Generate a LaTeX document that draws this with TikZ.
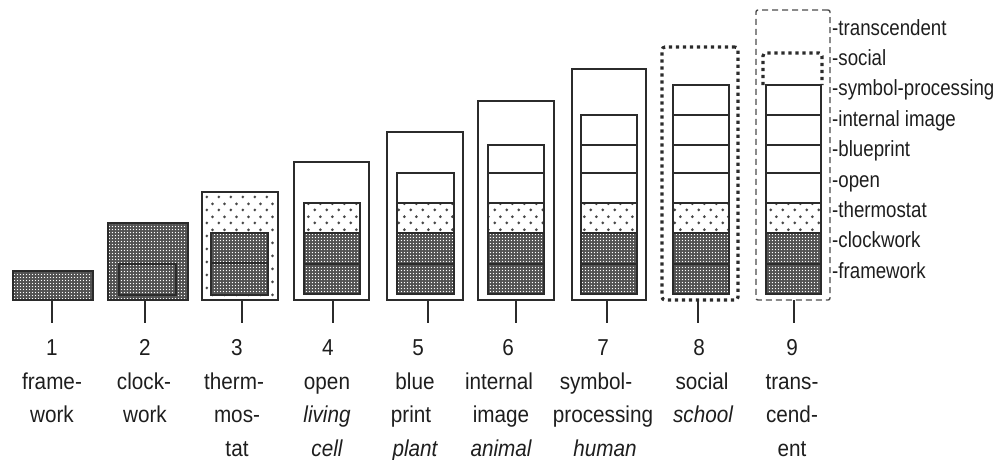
\documentclass[tikz,border=0pt]{standalone}
\usepackage{fontspec}
\setmainfont{Liberation Sans}
\newfontfamily\lblfont[FakeStretch=0.9]{Liberation Sans}
\newfontfamily\sidefont[FakeStretch=0.85]{Liberation Sans}
\usetikzlibrary{patterns}

% dark fill with a fine grid of light dots (framework / clockwork)
\pgfdeclarepatternformonly{densedots}{\pgfpointorigin}{\pgfpoint{3.4pt}{3.4pt}}{\pgfpoint{3.4pt}{3.4pt}}{%
  \pgfpathcircle{\pgfpoint{1.7pt}{1.7pt}}{0.8pt}\pgfusepath{fill}}
% light fill with staggered dark dots (thermostat)
\pgfdeclarepatternformonly{sparsedots}{\pgfpointorigin}{\pgfpoint{12pt}{13pt}}{\pgfpoint{12pt}{13pt}}{%
  \pgfpathcircle{\pgfpoint{3pt}{3.25pt}}{1.6pt}%
  \pgfpathcircle{\pgfpoint{9pt}{9.75pt}}{1.6pt}\pgfusepath{fill}}

\definecolor{ink}{HTML}{2B2B2B}
\definecolor{txt}{HTML}{1E1E1E}

% a box given by its corners (x1,y1) and (x2,y2)
\newcommand\levelbox[6]{%
  \node[#6, inner sep=0pt, outer sep=0pt, minimum width={#4-#2}, minimum height={#5-#3}]
    (#1) at ({(#2+#4)/2},{(#3+#5)/2}) {};}

\begin{document}
\begin{tikzpicture}[x=1pt, y=-1pt,
  box/.style={draw=ink, line width=1.8pt},
  dense/.style={preaction={fill=black!68}, pattern=densedots, pattern color=white},
  sparse/.style={preaction={fill=white}, pattern=sparsedots, pattern color=black!72},
  dotbox/.style={draw=ink, line width=3.2pt, dash pattern=on 3.2pt off 3.8pt, rounded corners=3pt},
  dashbox/.style={draw=black!70, line width=1.4pt, dash pattern=on 6pt off 4pt, rounded corners=2pt},
  stem/.style={draw=ink, line width=1.8pt},
  lbl/.style={font=\lblfont\fontsize{23}{27}\selectfont, text=txt, anchor=base, inner sep=0pt},
  side/.style={font=\sidefont\fontsize{22}{26}\selectfont, text=txt, anchor=base west, inner sep=0pt}]

\useasboundingbox (0,0) rectangle (1000,459);

% outer boxes of the nine levels
\levelbox{c1}{13}{271}{93}{300}{box, dense}
\levelbox{c2}{108}{223}{188}{300}{box, dense}
\levelbox{c3}{202}{192}{278}{300}{box, sparse}
\levelbox{c4}{294}{162}{369}{300}{box}
\levelbox{c5}{387}{132}{463}{300}{box}
\levelbox{c6}{478}{101}{554}{300}{box}
\levelbox{c7}{572}{69}{646}{300}{box}
\levelbox{c8}{662}{47}{738}{300}{dotbox}
\levelbox{c9}{756}{10}{830}{300}{dashbox}

% level 2: framework inside clockwork
\draw[box] (119,264) rectangle (176,295);

% level 3: framework and clockwork inside thermostat
\draw[box, dense] (211,233) rectangle (268,295);
\draw[box] (211,263) -- (268,263);

% levels 4-9: stacked lower levels
\foreach \xa/\xb/\top in {304/360/203, 397/454/173, 488/544/145, 581/637/115, 673/729/85, 766/821/85} {
  \draw[box, dense] (\xa,233) rectangle (\xb,294);
  \draw[box] (\xa,264) -- (\xb,264);
  \draw[box, sparse] (\xa,203) rectangle (\xb,233);
  \foreach \ya/\yb in {203/173, 173/145, 145/115, 115/85} {
    \ifnum\yb<\top\relax\else
      \draw[box] (\xa,\ya) rectangle (\xb,\yb);
    \fi
  }
}

% level 9: social layer above the stack
\draw[dotbox] (763,85) -- (763,53) -- (822,53) -- (822,85);

% stems below the boxes
\foreach \i/\x in {1/52, 2/145, 3/242, 4/333, 5/428, 6/516, 7/607, 8/698, 9/794} {
  \coordinate (t\i) at (\x,323);
  \draw[stem] (t\i |- c\i.south) -- (t\i);
}

% level numbers
\node[lbl] (n1) at (52,355) {1};
\node[lbl] (n2) at (145,355) {2};
\node[lbl] (n3) at (237,355) {3};
\node[lbl] (n4) at (328,355) {4};
\node[lbl] (n5) at (418,355) {5};
\node[lbl] (n6) at (508,355) {6};
\node[lbl] (n7) at (603,355) {7};
\node[lbl] (n8) at (699,355) {8};
\node[lbl] (n9) at (792,355) {9};

% level names and examples
\node[lbl] (a1) at (52,389) {frame-};
\node[lbl] (b1) at (52,422.5) {work};
\node[lbl] (a2) at (144,389) {clock-};
\node[lbl] (b2) at (145,422.5) {work};
\node[lbl] (a3) at (234,389) {therm-};
\node[lbl] (b3) at (237,422.5) {mos-};
\node[lbl] (c3l) at (237,456) {tat};
\node[lbl] (a4) at (327,389) {open};
\node[lbl] (b4) at (327,422.5) {\itshape living};
\node[lbl] (c4l) at (327,456) {\itshape cell};
\node[lbl] (a5) at (415,389) {blue};
\node[lbl] (b5) at (411,422.5) {print};
\node[lbl] (c5l) at (415,456) {\itshape plant};
\node[lbl] (a6) at (499,389) {internal};
\node[lbl] (b6) at (501,422.5) {image};
\node[lbl] (c6l) at (501,456) {\itshape animal};
\node[lbl] (a7) at (596,389) {symbol-};
\node[lbl] (b7) at (603,422.5) {processing};
\node[lbl] (c7l) at (605,456) {\itshape human};
\node[lbl] (a8) at (702,389) {social};
\node[lbl] (b8) at (703,422.5) {\itshape school};
\node[lbl] (a9) at (792,389) {trans-};
\node[lbl] (b9) at (792,422.5) {cend-};
\node[lbl] (c9l) at (792,456) {ent};

% level names beside the last column
\foreach \t [count=\i from 0] in {transcendent, social, symbol-processing, internal image,
    blueprint, open, thermostat, clockwork, framework} {
  \node[side] (r\i) at (832,{35+30.4*\i}) {-\t};
}
\end{tikzpicture}
\end{document}
